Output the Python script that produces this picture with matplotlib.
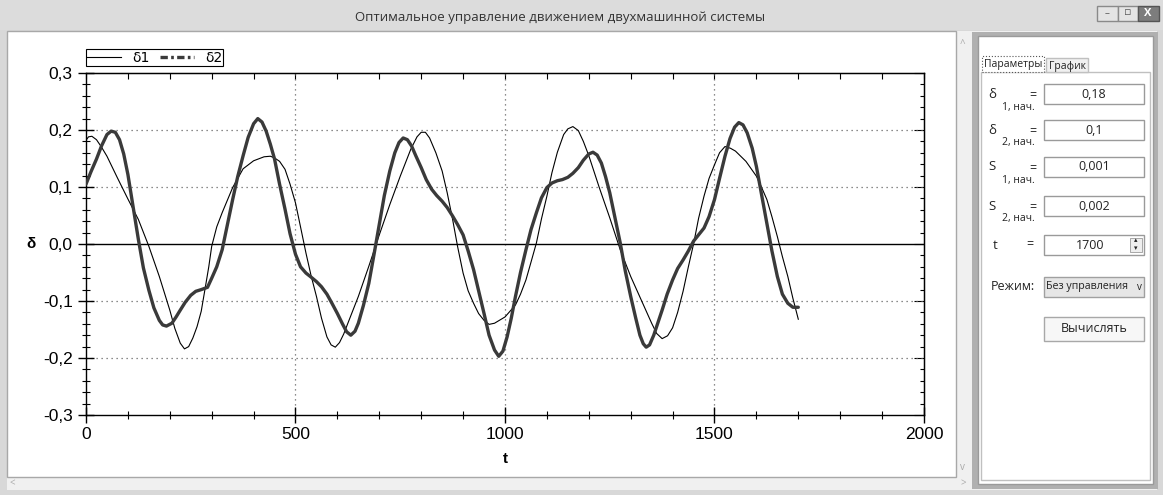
import matplotlib.pyplot as plt
from matplotlib.lines import Line2D
from matplotlib.patches import Rectangle
from matplotlib.ticker import MultipleLocator, FuncFormatter

# delta1 (thin line)
t1 = [0, 6, 14, 25, 37, 50, 75, 100, 125, 150,
      175, 200, 212, 225, 235, 245, 255, 265, 275, 285,
      293, 300, 312, 325, 350, 375, 400, 425, 440, 450,
      462, 475, 487, 500, 512, 525, 537, 550, 562, 575,
      585, 595, 605, 615, 625, 650, 675, 700, 725, 750,
      775, 790, 800, 810, 820, 835, 850, 862, 875, 887,
      900, 912, 925, 937, 950, 962, 975, 1000, 1025, 1037,
      1050, 1062, 1075, 1087, 1100, 1112, 1125, 1140, 1150, 1162,
      1175, 1187, 1200, 1225, 1250, 1275, 1300, 1325, 1350, 1362,
      1375, 1388, 1400, 1412, 1425, 1437, 1450, 1462, 1475, 1487,
      1500, 1512, 1525, 1538, 1550, 1575, 1600, 1612, 1625, 1637,
      1650, 1662, 1675, 1687, 1700]
delta1 = [0.182, 0.188, 0.189, 0.183, 0.170, 0.154, 0.116, 0.079, 0.043, -0.004,
          -0.057, -0.116, -0.148, -0.174, -0.184, -0.180, -0.165, -0.145, -0.118, -0.075,
          -0.040, -0.004, 0.030, 0.055, 0.099, 0.132, 0.146, 0.153, 0.154, 0.151,
          0.145, 0.131, 0.105, 0.072, 0.030, -0.016, -0.055, -0.092, -0.130, -0.163,
          -0.177, -0.181, -0.173, -0.158, -0.139, -0.092, -0.039, 0.016, 0.069, 0.119,
          0.166, 0.188, 0.196, 0.196, 0.186, 0.160, 0.128, 0.090, 0.043, -0.005,
          -0.051, -0.082, -0.104, -0.122, -0.134, -0.141, -0.139, -0.128, -0.107, -0.088,
          -0.063, -0.032, 0.002, 0.044, 0.084, 0.125, 0.161, 0.192, 0.202, 0.206,
          0.199, 0.180, 0.155, 0.099, 0.046, -0.010, -0.057, -0.098, -0.139, -0.157,
          -0.166, -0.161, -0.147, -0.120, -0.083, -0.042, 0.000, 0.045, 0.084, 0.115,
          0.139, 0.160, 0.171, 0.168, 0.163, 0.145, 0.119, 0.100, 0.078, 0.048,
          0.013, -0.022, -0.057, -0.095, -0.132]

# delta2 (thick line)
t2 = [0, 12, 25, 37, 50, 60, 70, 80, 90, 100,
      110, 116, 125, 137, 150, 162, 175, 183, 192, 205,
      215, 225, 237, 250, 262, 275, 290, 300, 312, 325,
      337, 350, 362, 375, 387, 400, 410, 420, 430, 440,
      450, 462, 475, 487, 500, 512, 525, 537, 550, 562,
      575, 587, 600, 612, 622, 632, 642, 650, 662, 675,
      687, 700, 712, 725, 737, 747, 757, 767, 777, 787,
      800, 812, 825, 837, 850, 862, 875, 887, 900, 912,
      925, 937, 950, 962, 975, 985, 995, 1005, 1015, 1025,
      1037, 1050, 1062, 1075, 1087, 1100, 1112, 1125, 1137, 1150,
      1162, 1175, 1187, 1200, 1210, 1220, 1230, 1240, 1250, 1262,
      1275, 1287, 1300, 1312, 1322, 1330, 1337, 1345, 1355, 1365,
      1375, 1387, 1400, 1412, 1425, 1437, 1450, 1462, 1475, 1487,
      1500, 1512, 1525, 1537, 1548, 1558, 1568, 1578, 1590, 1600,
      1612, 1625, 1637, 1650, 1662, 1675, 1687, 1700]
delta2 = [0.105, 0.127, 0.149, 0.172, 0.192, 0.198, 0.196, 0.183, 0.158, 0.122,
          0.077, 0.049, 0.008, -0.042, -0.081, -0.112, -0.134, -0.142, -0.144, -0.139,
          -0.128, -0.116, -0.102, -0.090, -0.083, -0.080, -0.076, -0.060, -0.040, -0.010,
          0.032, 0.078, 0.118, 0.155, 0.187, 0.211, 0.220, 0.214, 0.198, 0.175,
          0.149, 0.105, 0.061, 0.018, -0.018, -0.040, -0.051, -0.058, -0.066, -0.075,
          -0.088, -0.104, -0.122, -0.140, -0.154, -0.160, -0.153, -0.139, -0.108, -0.069,
          -0.020, 0.035, 0.085, 0.128, 0.160, 0.178, 0.186, 0.183, 0.172, 0.155,
          0.134, 0.113, 0.096, 0.085, 0.075, 0.064, 0.049, 0.034, 0.016, -0.012,
          -0.045, -0.082, -0.122, -0.160, -0.186, -0.197, -0.188, -0.163, -0.130, -0.092,
          -0.050, -0.010, 0.025, 0.055, 0.081, 0.099, 0.107, 0.111, 0.113, 0.117,
          0.124, 0.134, 0.147, 0.158, 0.161, 0.156, 0.142, 0.118, 0.090, 0.048,
          0.002, -0.047, -0.092, -0.130, -0.160, -0.175, -0.181, -0.177, -0.160, -0.138,
          -0.116, -0.088, -0.063, -0.043, -0.028, -0.013, 0.005, 0.016, 0.028, 0.048,
          0.078, 0.115, 0.154, 0.185, 0.205, 0.213, 0.209, 0.195, 0.168, 0.136,
          0.088, 0.037, -0.012, -0.057, -0.088, -0.104, -0.111, -0.111]

title = "Оптимальное управление движением двухмашинной системы"
param_names = [("δ", "1, нач."), ("δ", "2, нач."), ("S", "1, нач."), ("S", "2, нач.")]
param_values = ["0,18", "0,1", "0,001", "0,002"]
t_value = "1700"
mode = "Без управления"

W, H = 1163, 495
fig = plt.figure(figsize=(W / 100, H / 100), dpi=100)
fig.patch.set_facecolor("#d8d8d8")
ui = ["Open Sans", "DejaVu Sans"]


def box(x, y, w, h, fc, ec="none", lw=1.0, z=-10, ls="-"):
    fig.add_artist(Rectangle((x / W, 1 - (y + h) / H), w / W, h / H,
                             transform=fig.transFigure, facecolor=fc,
                             edgecolor=ec, linewidth=lw, zorder=z, linestyle=ls))


def label(x, y, s, **kw):
    kw.setdefault("family", ui)
    kw.setdefault("va", "center")
    kw.setdefault("color", "#222222")
    fig.text(x / W, 1 - y / H, s, **kw)


# window frame
box(0, 0, W, 30, "#dcdcdc")
label(560, 17, title, fontsize=9.5, ha="center", color="#333333")
box(1097, 6, 21, 15, "#e4e4e4", "#8a8a8a", z=-9)
box(1118, 6, 20, 15, "#e4e4e4", "#8a8a8a", z=-9)
box(1138, 6, 21, 15, "#7d7d7d", "#555555", z=-9)
label(1107, 14, "–", fontsize=7, ha="center", color="#555555")
label(1128, 13, "▫", fontsize=8, ha="center", color="#555555")
label(1148, 13, "X", fontsize=8, ha="center", color="white", weight="bold")
box(7, 31, 1150, 459, "#f0f0f0")
box(7, 31, 949, 446, "white", "#a8a8a8")
label(962, 44, "^", fontsize=7, ha="center", color="#aaaaaa")
label(962, 467, "v", fontsize=7, ha="center", color="#aaaaaa")
label(12, 484, "<", fontsize=7, ha="center", color="#aaaaaa")
label(963, 484, ">", fontsize=7, ha="center", color="#aaaaaa")

# right panel
box(972, 32, 186, 457, "#b0b0b0")
box(978, 36, 175, 448, "white", "#9a9a9a")
box(981, 72, 169, 408, "white", "#c0c0c0", z=-9)
box(982, 56, 62, 16, "white", "#555555", lw=0.8, ls=":", z=-8)
box(1046, 58, 42, 14, "#f0f0f0", "#c0c0c0", z=-8)
label(1013, 64, "Параметры", fontsize=7.5, ha="center")
label(1067, 66, "График", fontsize=7.5, ha="center")

rows_y = [94, 130, 167, 206]
for (sym, sub), val, y in zip(param_names, param_values, rows_y):
    label(992, y, sym, fontsize=9.5, ha="center")
    label(1018, y + 13, sub, fontsize=7.5, ha="center")
    label(1033, y + 2, "=", fontsize=9, ha="center")
    box(1044, y - 10, 100, 20, "white", "#9a9a9a", z=-8)
    label(1094, y, val, fontsize=9, ha="center")

label(995, 245, "t", fontsize=9.5, ha="center")
label(1030, 245, "=", fontsize=9, ha="center")
box(1044, 235, 100, 20, "white", "#9a9a9a", z=-8)
label(1090, 245, t_value, fontsize=9, ha="center")
box(1130, 238, 12, 14, "#eeeeee", "#9a9a9a", lw=0.6, z=-7)
label(1136, 241, "▴", fontsize=5, ha="center")
label(1136, 249, "▾", fontsize=5, ha="center")

label(1013, 287, "Режим:", fontsize=9, ha="center")
box(1044, 277, 100, 20, "#e6e6e6", "#a0a0a0", z=-8)
label(1046, 287, mode, fontsize=7.7, ha="left")
label(1139, 287, "v", fontsize=7, ha="center")
box(1044, 317, 100, 24, "#f7f7f7", "#a8a8a8", z=-8)
label(1094, 329, "Вычислять", fontsize=9, ha="center")

# chart
ax = fig.add_axes([86 / W, 1 - 415 / H, 838 / W, 342 / H])
ax.set_facecolor("white")
ax.set_xlim(0, 2000)
ax.set_ylim(-0.3, 0.3)

for x in (500, 1000, 1500):
    ax.axvline(x, color="#666666", lw=0.9, ls=(0, (1, 3)), zorder=1)
for y in (-0.2, -0.1, 0.1, 0.2):
    ax.axhline(y, color="#666666", lw=0.9, ls=(0, (1, 3)), zorder=1)
ax.axhline(0, color="black", lw=1.0, zorder=2)

ax.plot(t1, delta1, color="black", lw=0.8, zorder=3)
ax.plot(t2, delta2, color="#3a3a3a", lw=2.4, zorder=4, solid_capstyle="round")

comma = FuncFormatter(lambda v, p: f"{v:.1f}".replace(".", ",").replace("-0,0", "0,0"))
ax.xaxis.set_major_locator(MultipleLocator(500))
ax.xaxis.set_minor_locator(MultipleLocator(100))
ax.yaxis.set_major_locator(MultipleLocator(0.1))
ax.yaxis.set_minor_locator(MultipleLocator(0.02))
ax.yaxis.set_major_formatter(comma)
ax.tick_params(which="major", direction="inout", length=11, width=1,
               labelsize=12.5, labelfontfamily="Liberation Sans")
ax.tick_params(which="minor", direction="inout", length=6, width=0.8)
ax.tick_params(axis="x", which="major", pad=3)
ax.tick_params(axis="y", which="major", pad=4)
for s in ax.spines.values():
    s.set_linewidth(1.0)

top = ax.secondary_xaxis("top")
top.xaxis.set_major_locator(MultipleLocator(500))
top.xaxis.set_minor_locator(MultipleLocator(100))
top.tick_params(which="both", direction="in", labeltop=False, length=4, width=0.8)
right = ax.secondary_yaxis("right")
right.yaxis.set_major_locator(MultipleLocator(0.1))
right.yaxis.set_minor_locator(MultipleLocator(0.02))
right.tick_params(which="major", direction="in", labelright=False, length=7, width=0.8)
right.tick_params(which="minor", direction="in", labelright=False, length=3, width=0.8)

ax.set_xlabel("t", fontsize=11, fontweight="bold", family=["Liberation Sans"], va="center")
ax.xaxis.set_label_coords((505 - 86) / 838, -(459 - 415) / 342)
ax.set_ylabel("δ", fontsize=11, fontweight="bold", rotation=0,
              family=["Liberation Sans", "DejaVu Sans"], va="center")
ax.yaxis.set_label_coords(-(86 - 31) / 838, 0.5)

handles = [Line2D([], [], color="black", lw=0.8),
           Line2D([], [], color="#3a3a3a", lw=2.4, ls=(0, (2.2, 1.0, 0.8, 1.0)))]
leg = ax.legend(handles, ["δ1", "δ2"], loc="lower left", bbox_to_anchor=(0.0, 1.02),
                ncol=2, fontsize=10, frameon=True, fancybox=False,
                handlelength=2.4, handletextpad=0.8, columnspacing=0.8,
                borderpad=0.1, borderaxespad=0.0)
leg.get_frame().set_edgecolor("black")
leg.get_frame().set_linewidth(0.8)
leg.get_frame().set_alpha(1)

fig.savefig("out.png", dpi=100)
